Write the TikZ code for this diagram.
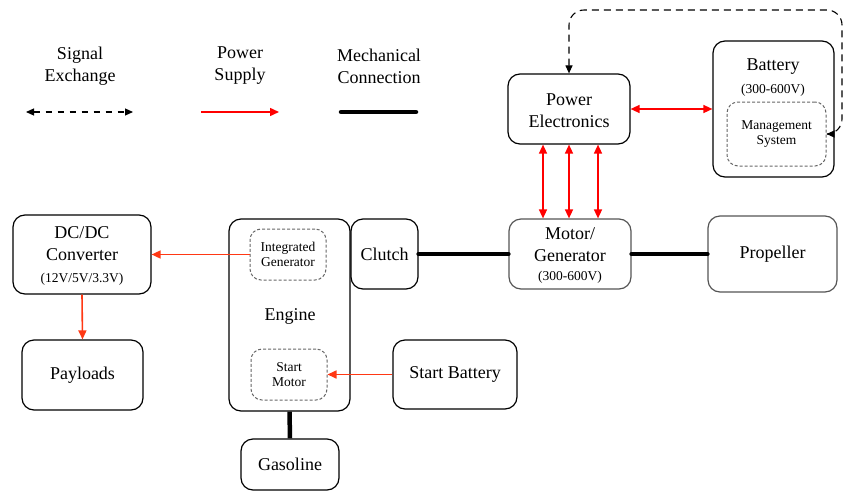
\documentclass[tikz,border=0pt]{standalone}
\usepackage{fontspec}
\setmainfont{Liberation Serif}
\usepackage{tikz}
\usetikzlibrary{positioning,arrows.meta,calc}
\definecolor{PowerRed}{HTML}{FF0000}
\definecolor{PowerOrange}{HTML}{FF3814}
\definecolor{EdgeGray}{HTML}{555555}
\definecolor{DotGray}{HTML}{666666}
\newcommand{\sublabel}{\fontsize{13.5}{15}\selectfont}

\begin{document}
\begin{tikzpicture}[x=1pt,y=-1pt,
    font=\fontsize{18}{22}\selectfont,
    block/.style={draw, line width=1.2pt, rounded corners=12pt, align=center, inner sep=0pt},
    innerbox/.style={draw=DotGray, line width=1pt, dash pattern=on 3pt off 2pt,
      rounded corners=11pt, align=center, inner sep=0pt, font=\sublabel},
    mech/.style={line width=4.5pt, line cap=round},
    sig/.style={line width=1.1pt, dash pattern=on 7pt off 5pt,
      {Triangle[length=8pt,width=7pt]}-{Triangle[length=8pt,width=7pt]}},
    pwr/.style={draw=PowerRed, line width=1.5pt, -{Triangle[length=9pt,width=8pt]}},
    feed/.style={draw=PowerOrange, line width=1.6pt, -{Triangle[length=9pt,width=8pt]}}]

  \useasboundingbox (0,0) rectangle (844,493);

  % legend
  \node[align=center] (lsig) at (80,66) {Signal\\Exchange};
  \node[align=center] (lpwr) at (240,66) {Power\\Supply};
  \node[align=center] (lmech) at (379,66) {Mechanical\\Connection};
  \coordinate (sigL) at (26,112);
  \coordinate (sigR) at (133,112);
  \coordinate (pwrL) at (201,112);
  \coordinate (pwrR) at (279,112);
  \coordinate (mechL) at (341,112);
  \coordinate (mechR) at (416,112);
  \draw[sig, dash pattern=on 6pt off 6pt] (sigL) -- (sigR);
  \draw[pwr] (pwrL) -- (pwrR);
  \draw[mech] (mechL) -- (mechR);

  % electric side
  \node[block, minimum width=122pt, minimum height=70pt] (pe) at (569,109) {\strut Power\\Electronics};
  \node[block, minimum width=121pt, minimum height=136pt] (bat) at (773.5,109) {};
  \node[align=center] (batlbl) at (773,78) {Battery\\[1pt]{\sublabel (300-600V)}};
  \node[innerbox, minimum width=99pt, minimum height=64pt] (bms) at (776.5,134) {Management\\System};
  \node[block, draw=EdgeGray, minimum width=122pt, minimum height=70pt] (mg) at (570,254)
    {\strut Motor/\\Generator\\[-3pt]{\sublabel (300-600V)}};
  \node[block, draw=EdgeGray, minimum width=129pt, minimum height=76pt] (prop) at (772.5,254) {Propeller};

  % engine side
  \node[block, minimum width=67pt, minimum height=70pt] (clutch) at (384.5,254) {Clutch};
  \node[block, minimum width=121pt, minimum height=192pt] (eng) at (289.5,315) {};
  \node (englbl) at (290,316) {Engine};
  \node[innerbox, minimum width=76pt, minimum height=51pt] (igen) at (288,254.5) {Integrated\\Generator};
  \node[innerbox, minimum width=76pt, minimum height=51pt] (smot) at (289,374.5) {Start\\Motor};
  \node[block, minimum width=98pt, minimum height=51pt] (gas) at (290,464.5) {Gasoline};
  \node[block, minimum width=124pt, minimum height=69pt] (sbat) at (455,374.5) {Start Battery};
  \node[block, minimum width=138pt, minimum height=79pt] (dcdc) at (82,254.5)
    {\strut DC/DC\\Converter\\[0pt]{\sublabel (12V/5V/3.3V)}};
  \node[block, minimum width=121pt, minimum height=70pt] (pay) at (82.5,375) {Payloads};

  % signal loop
  \coordinate (sigtop) at (842,10);
  \draw[sig, rounded corners=15pt] (pe.north) |- (sigtop) |- (bms.east);

  % power links
  \draw[pwr, {Triangle[length=9pt,width=8pt]}-{Triangle[length=9pt,width=8pt]}] (pe.east) -- (bat.west);
  \foreach \dx in {-26,0,29} {
    \draw[pwr, {Triangle[length=9pt,width=8pt]}-{Triangle[length=9pt,width=8pt]}]
      ([xshift=\dx pt]pe.south) -- ([xshift=\dx pt]pe.south |- mg.north);
  }
  \draw[feed] (igen.west) -- (dcdc.east);
  \draw[feed] (dcdc.south) -- (pay.north);
  \draw[feed] (sbat.west) -- (smot.east);

  % mechanical links
  \draw[mech] (clutch.east) -- (mg.west);
  \draw[mech] (mg.east) -- (prop.west);
  \draw[mech, line cap=butt] (eng.south) -- (gas.north);
\end{tikzpicture}
\end{document}
